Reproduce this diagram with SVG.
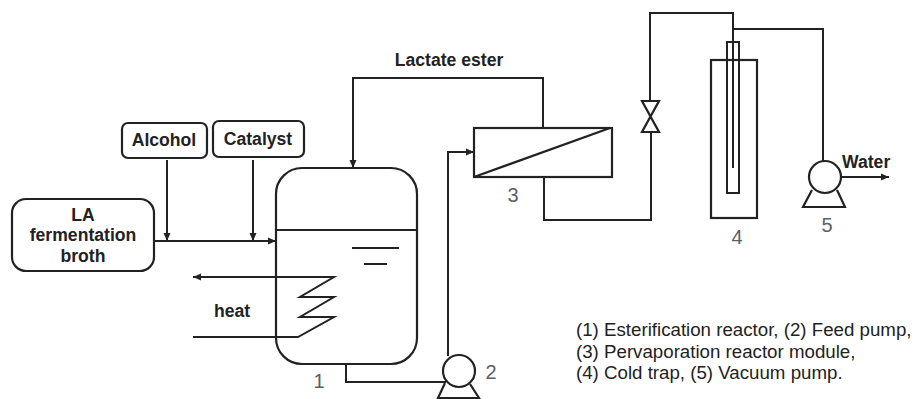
<svg xmlns="http://www.w3.org/2000/svg" width="914" height="399" viewBox="0 0 914 399">
<defs>
<marker id="ah" markerUnits="userSpaceOnUse" markerWidth="9" markerHeight="8" refX="8" refY="4" orient="auto"><path d="M0 .5L8 4L0 7.500z" fill="#222"/></marker>
</defs>
<style>
.l{fill:none;stroke:#222;stroke-width:2}
.b{fill:none;stroke:#222;stroke-width:2.200}
.a{marker-end:url(#ah)}
text{font-family:"Liberation Sans",Arial,sans-serif;fill:#222}
.t{font-weight:700;font-size:17.600px;text-anchor:middle}
.n{font-size:20px;fill:#5a5f66;text-anchor:middle}
.c{font-size:18.700px}
</style>
<rect width="914" height="399" fill="#fff"/>
<g id="connectors">
<path class="l a" d="M154 241H276"/>
<path class="l a" d="M167 160V241"/>
<path class="l a" d="M253 160V241"/>
<path class="l a" d="M543 128V78H353V168"/>
<path class="l a" d="M448 356V152H474"/>
<path class="l" d="M346 365V382H446"/>
<path class="l" d="M544 177V220H651V132"/>
<path class="l" d="M650 101V13H733V42"/>
<path class="l" d="M733 29H823V161"/>
<path class="l a" d="M841 177H889"/>
</g>
<g id="node-alcohol"><rect class="b" x="122" y="123" width="85" height="35" rx="6"/><text class="t" x="164" y="146">Alcohol</text></g>
<g id="node-catalyst"><rect class="b" x="213" y="121" width="91" height="36" rx="6"/><text class="t" x="258" y="145">Catalyst</text></g>
<g id="node-broth"><rect class="b" x="12" y="199" width="142" height="72" rx="14"/><text class="t" x="83" y="221">LA</text><text class="t" x="83" y="241">fermentation</text><text class="t" x="83" y="262">broth</text></g>
<g id="node-reactor">
<rect class="b" x="276" y="168" width="141" height="196" rx="26"/>
<path class="l" d="M276 230H417M352 248H399M364 264H387"/>
<path class="l a" d="M193 337H298L334 317H300L334 297H300L334 277H193"/>
<text class="n" x="319" y="388">1</text>
<text class="t" x="232" y="317">heat</text>
</g>
<g id="node-pump2">
<circle class="b" cx="459" cy="371" r="16" style="fill:#fff"/>
<path class="b" d="M445 383L438 398H479L470 384"/>
<text class="n" x="491" y="379">2</text>
</g>
<g id="node-module3">
<rect class="b" x="474" y="128" width="138" height="49"/>
<path class="b" d="M474 177L610 128"/>
<text class="n" x="513" y="202">3</text>
</g>
<g id="node-valve"><path class="b" d="M642 101H659L642 132H659z" style="fill:#fff"/></g>
<g id="node-trap4">
<rect class="b" x="711" y="60" width="46" height="158"/>
<rect class="l" x="727" y="42" width="12" height="151"/>
<path class="l" d="M733 42V168"/>
<text class="n" x="737" y="244">4</text>
</g>
<g id="node-pump5">
<circle class="b" cx="825" cy="177" r="16" style="fill:#fff"/>
<path class="b" d="M812 190L803 207H845L837 190"/>
<text class="n" x="827" y="232">5</text>
<text x="842" y="168" style="font-weight:700;font-size:17.600px">Water</text>
</g>
<g id="label-ester"><text x="449" y="66" class="t">Lactate ester</text></g>
<g id="legend">
<text class="c" x="576" y="336">(1) Esterification reactor, (2) Feed pump,</text>
<text class="c" x="576" y="357.500">(3) Pervaporation reactor module,</text>
<text class="c" x="576" y="378.500">(4) Cold trap, (5) Vacuum pump.</text>
</g>
</svg>
